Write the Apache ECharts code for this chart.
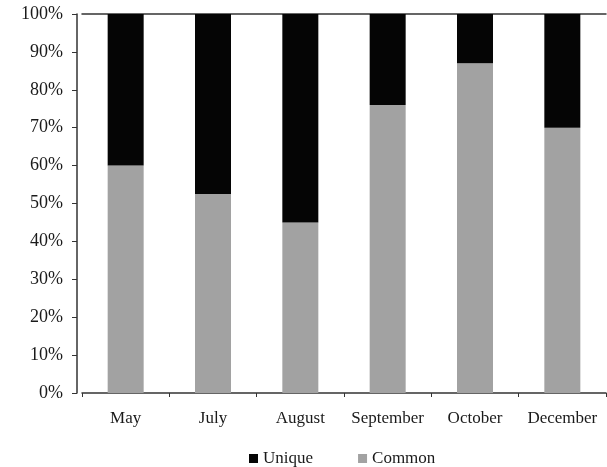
<!DOCTYPE html>
<html>
<head>
<meta charset="utf-8">
<script src="https://cdn.jsdelivr.net/npm/echarts@6/dist/echarts.min.js"></script>
<style>
  html, body { margin: 0; padding: 0; background: #fff; }
  #chart { width: 607px; height: 467px; }
</style>
</head>
<body>
<div id="chart"></div>
<script>
// Monthly share of common vs. unique items (percent of total)
const months = ['May', 'July', 'August', 'September', 'October', 'December'];
const commonShare = [60, 52.5, 45, 76, 87, 70];
const uniqueShare = [40, 47.5, 55, 24, 13, 30];
const yTicks = [0, 10, 20, 30, 40, 50, 60, 70, 80, 90, 100];

const serif = '"Liberation Serif", "DejaVu Serif", serif';
const chart = echarts.init(document.getElementById('chart'));

chart.setOption({
  animation: false,
  backgroundColor: '#ffffff',
  textStyle: { fontFamily: serif, color: '#1a1a1a' },
  grid: { left: 82, right: 1, top: 14, bottom: 74, containLabel: false },
  legend: {
    top: 445,
    left: 244,
    itemWidth: 9,
    itemHeight: 9,
    itemGap: 45,
    icon: 'rect',
    textStyle: { fontFamily: serif, fontSize: 17, color: '#1a1a1a' },
    data: ['Unique', 'Common']
  },
  xAxis: [{
    type: 'category',
    data: months,
    boundaryGap: true,
    axisLine: { lineStyle: { color: '#333', width: 1.5 } },
    axisTick: { show: true, length: 4, lineStyle: { color: '#333' } },
    axisLabel: { fontFamily: serif, fontSize: 17, color: '#1a1a1a', margin: 17, interval: 0 }
  }, {
    type: 'category',
    position: 'top',
    data: months,
    axisLine: { lineStyle: { color: '#333', width: 1.5 } },
    axisTick: { show: false },
    axisLabel: { show: false }
  }],
  yAxis: {
    type: 'value',
    min: yTicks[0],
    max: yTicks[yTicks.length - 1],
    interval: 10,
    offset: 5,
    axisLine: { show: true, lineStyle: { color: '#333', width: 1.5 } },
    axisTick: { show: true, length: 5, lineStyle: { color: '#333' } },
    splitLine: { show: false },
    axisLabel: { fontFamily: serif, fontSize: 18, color: '#1a1a1a', margin: 14, formatter: '{value}%' }
  },
  series: [{
    name: 'Common',
    type: 'bar',
    stack: 'share',
    barWidth: 36,
    itemStyle: { color: '#a2a2a2' },
    data: commonShare
  }, {
    name: 'Unique',
    type: 'bar',
    stack: 'share',
    barWidth: 36,
    itemStyle: { color: '#050505' },
    data: uniqueShare
  }]
});
</script>
</body>
</html>
